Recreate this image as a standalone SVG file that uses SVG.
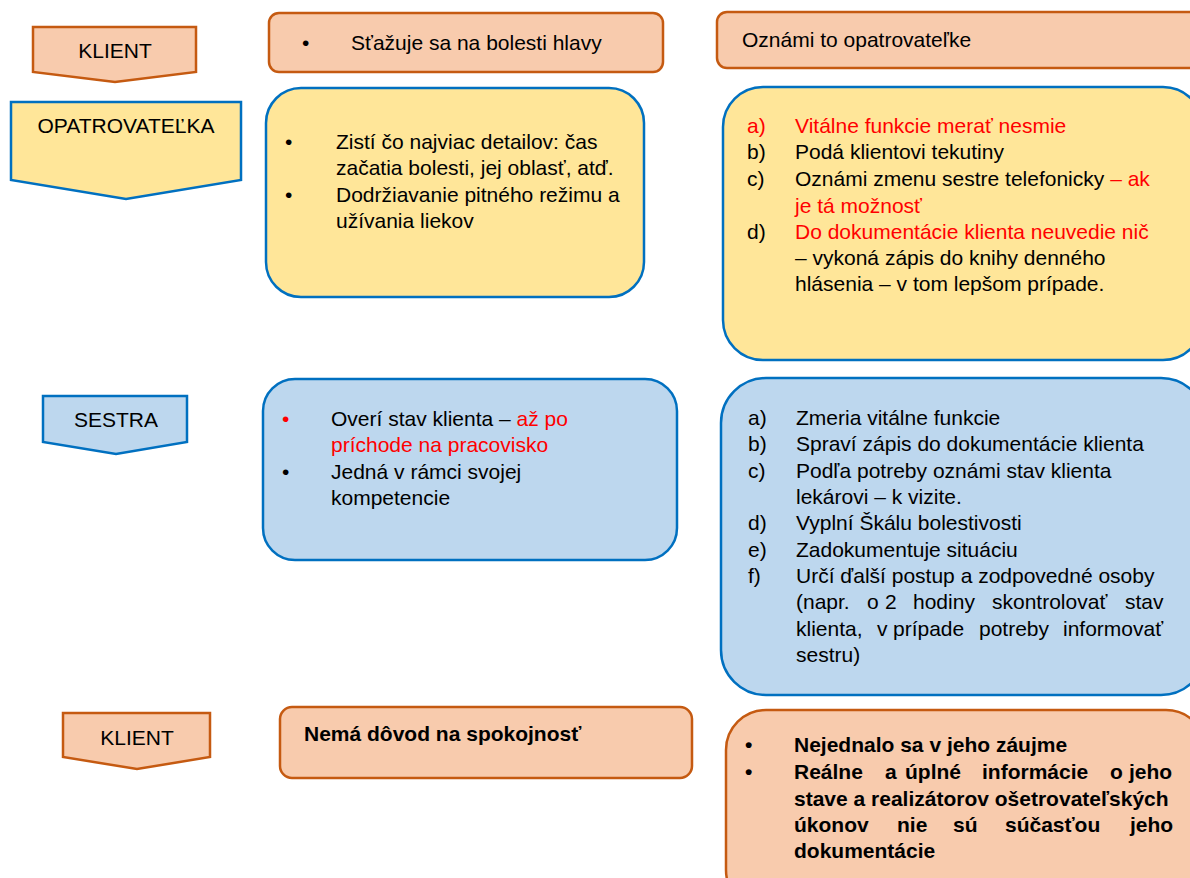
<svg xmlns="http://www.w3.org/2000/svg" width="1190" height="878" viewBox="0 0 1190 878">
<style>
.t{font-family:"Liberation Sans",Arial,sans-serif;font-size:21px;fill:#000}
.r{fill:#FF0000}
.b{font-weight:bold}
.or{fill:#F8CBAD;stroke:#C55A11;stroke-width:2.5}
.ye{fill:#FFE699;stroke:#0070C0;stroke-width:2.5}
.bl{fill:#BDD7EE;stroke:#0070C0;stroke-width:2.5}
.c{text-anchor:middle}
</style>
<rect width="1190" height="878" fill="#fff"/>
<g id="connectors"/>
<g id="klient-top">
<path class="or" d="M33,27H196V72L115,82L33,72Z"/>
<text class="t c" x="115" y="58">KLIENT</text>
</g>
<g id="opatrovatelka">
<path class="ye" d="M11,102H241V180L126,199L11,180Z"/>
<text class="t c" x="126" y="133">OPATROVATEĽKA</text>
</g>
<g id="sestra">
<path class="bl" d="M43,396H187V442L116,454L43,442Z"/>
<text class="t c" x="116" y="427">SESTRA</text>
</g>
<g id="klient-bottom">
<path class="or" d="M63,713H210V757L137,769L63,757Z"/>
<text class="t c" x="137" y="745">KLIENT</text>
</g>
<g id="box-staz">
<rect class="or" x="269" y="13" width="394" height="59" rx="10"/>
<text class="t" x="302" y="50">•</text>
<text class="t" x="351" y="50">Sťažuje sa na bolesti hlavy</text>
</g>
<g id="box-oznami">
<rect class="or" x="717" y="12" width="500" height="56" rx="10"/>
<text class="t" x="742" y="47">Oznámi to opatrovateľke</text>
</g>
<g id="box-opat-left">
<rect class="ye" x="266" y="88" width="378" height="209" rx="35"/>
<text class="t" x="285" y="149">•</text>
<text class="t" x="336" y="149">Zistí čo najviac detailov: čas</text>
<text class="t" x="336" y="175">začatia bolesti, jej oblasť, atď.</text>
<text class="t" x="285" y="202">•</text>
<text class="t" x="336" y="202">Dodržiavanie pitného režimu a</text>
<text class="t" x="336" y="228">užívania liekov</text>
</g>
<g id="box-opat-right">
<rect class="ye" x="723" y="87" width="480" height="273" rx="40"/>
<text class="t r" x="747" y="133">a)</text>
<text class="t r" x="795" y="133">Vitálne funkcie merať nesmie</text>
<text class="t" x="747" y="159">b)</text>
<text class="t" x="795" y="159">Podá klientovi tekutiny</text>
<text class="t" x="747" y="186">c)</text>
<text class="t" x="795" y="186">Oznámi zmenu sestre telefonicky <tspan class="r">– ak</tspan></text>
<text class="t r" x="795" y="213">je tá možnosť</text>
<text class="t" x="747" y="239">d)</text>
<text class="t r" x="795" y="239">Do dokumentácie klienta neuvedie nič</text>
<text class="t" x="795" y="265">– vykoná zápis do knihy denného</text>
<text class="t" x="795" y="291">hlásenia – v tom lepšom prípade.</text>
</g>
<g id="box-sestra-left">
<rect class="bl" x="263" y="379" width="414" height="181" rx="32"/>
<text class="t r" x="282" y="426">•</text>
<text class="t" x="331" y="426">Overí stav klienta – <tspan class="r">až po</tspan></text>
<text class="t r" x="331" y="452">príchode na pracovisko</text>
<text class="t" x="282" y="479">•</text>
<text class="t" x="331" y="479">Jedná v rámci svojej</text>
<text class="t" x="331" y="505">kompetencie</text>
</g>
<g id="box-sestra-right">
<rect class="bl" x="721" y="378" width="485" height="317" rx="45"/>
<text class="t" x="748" y="425">a)</text>
<text class="t" x="796" y="425">Zmeria vitálne funkcie</text>
<text class="t" x="748" y="451">b)</text>
<text class="t" x="796" y="451">Spraví zápis do dokumentácie klienta</text>
<text class="t" x="748" y="478">c)</text>
<text class="t" x="796" y="478">Podľa potreby oznámi stav klienta</text>
<text class="t" x="796" y="504">lekárovi – k vizite.</text>
<text class="t" x="748" y="530">d)</text>
<text class="t" x="796" y="530">Vyplní Škálu bolestivosti</text>
<text class="t" x="748" y="557">e)</text>
<text class="t" x="796" y="557">Zadokumentuje situáciu</text>
<text class="t" x="748" y="583">f)</text>
<text class="t" x="796" y="583">Určí ďalší postup a zodpovedné osoby</text>
<text class="t" y="609"><tspan x="796">(napr.</tspan><tspan x="867">o</tspan><tspan x="885">2</tspan><tspan x="913">hodiny</tspan><tspan x="992">skontrolovať</tspan><tspan x="1125">stav</tspan></text>
<text class="t" y="636"><tspan x="796">klienta,</tspan><tspan x="877">v</tspan><tspan x="893">prípade</tspan><tspan x="979">potreby</tspan><tspan x="1063">informovať</tspan></text>
<text class="t" x="796" y="662">sestru)</text>
</g>
<g id="box-klient-left">
<rect class="or" x="280" y="707" width="412" height="71" rx="12"/>
<text class="t b" x="304" y="741">Nemá dôvod na spokojnosť</text>
</g>
<g id="box-klient-right">
<rect class="or" x="726" y="710" width="480" height="200" rx="40"/>
<text class="t b" x="745" y="752">•</text>
<text class="t b" x="794" y="752">Nejednalo sa v jeho záujme</text>
<text class="t b" x="745" y="779">•</text>
<text class="t b" y="779"><tspan x="794">Reálne</tspan><tspan x="885">a</tspan><tspan x="905">úplné</tspan><tspan x="982">informácie</tspan><tspan x="1110">o</tspan><tspan x="1129">jeho</tspan></text>
<text class="t b" x="794" y="806">stave a realizátorov ošetrovateľských</text>
<text class="t b" y="832"><tspan x="794">úkonov</tspan><tspan x="897">nie</tspan><tspan x="953">sú</tspan><tspan x="1005">súčasťou</tspan><tspan x="1130">jeho</tspan></text>
<text class="t b" x="794" y="858">dokumentácie</text>
</g>
</svg>
